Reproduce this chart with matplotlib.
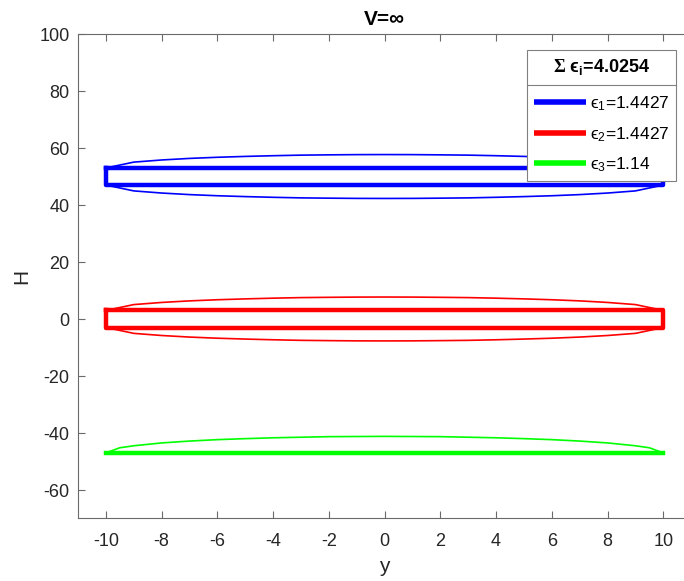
import matplotlib
matplotlib.use("Agg")
import matplotlib.pyplot as plt
from matplotlib.lines import Line2D

plt.rcParams['font.family'] = ['Liberation Sans', 'DejaVu Sans']
plt.rcParams['mathtext.fontset'] = 'custom'
plt.rcParams['mathtext.rm'] = 'Liberation Sans'
plt.rcParams['mathtext.it'] = 'Liberation Sans'
plt.rcParams['mathtext.bf'] = 'Liberation Sans:bold'
plt.rcParams['mathtext.sf'] = 'Liberation Serif:bold'
plt.rcParams['axes.unicode_minus'] = False

# ---- data ----
y_env = [-10, -9, -8, -7, -6, -5, -4, -3, -2, -1, 0, 1, 2, 3, 4, 5, 6, 7, 8, 9, 10]
blue_outer_top = [53.0, 55.05, 55.8, 56.35, 56.75, 57.05, 57.3, 57.5, 57.6, 57.68, 57.7,
                  57.68, 57.6, 57.5, 57.3, 57.05, 56.75, 56.35, 55.8, 55.05, 53.0]
blue_outer_bot = [47.0, 44.95, 44.2, 43.65, 43.25, 42.95, 42.7, 42.5, 42.4, 42.32, 42.3,
                  42.32, 42.4, 42.5, 42.7, 42.95, 43.25, 43.65, 44.2, 44.95, 47.0]
red_outer_top = [3.0, 5.05, 5.8, 6.35, 6.75, 7.05, 7.3, 7.5, 7.6, 7.68, 7.7,
                 7.68, 7.6, 7.5, 7.3, 7.05, 6.75, 6.35, 5.8, 5.05, 3.0]
red_outer_bot = [-3.0, -5.05, -5.8, -6.35, -6.75, -7.05, -7.3, -7.5, -7.6, -7.68, -7.7,
                 -7.68, -7.6, -7.5, -7.3, -7.05, -6.75, -6.35, -5.8, -5.05, -3.0]
y_green = [-10, -9.5, -9, -8, -7, -6, -5, -4, -3, -2, -1, 0,
           1, 2, 3, 4, 5, 6, 7, 8, 9, 9.5, 10]
green_outer_top = [-47.0, -45.2, -44.5, -43.5, -42.85, -42.35, -42.0, -41.7, -41.5, -41.3, -41.25, -41.2,
                   -41.25, -41.3, -41.5, -41.7, -42.0, -42.35, -42.85, -43.5, -44.5, -45.2, -47.0]

rect_y = [-10, 10, 10, -10, -10]
blue_rect_H = [53, 53, 47, 47, 53]
red_rect_H = [3, 3, -3, -3, 3]
green_line_y = [-10, 10]
green_line_H = [-47, -47]

labels = [r"ϵ$_1$=1.4427", r"ϵ$_2$=1.4427", r"ϵ$_3$=1.14"]
legend_title = r"$\mathsf{Σ}$ ϵ$_\mathbf{i}$=4.0254"
colors = ['#0000ff', '#ff0000', '#00ff00']

# ---- figure ----
fig = plt.figure(figsize=(6.845, 5.815), dpi=100)
# axes run to the right edge of the picture (the right part is cut off as in the reference)
ax = fig.add_axes([0.1140, 0.1076, 0.8860, 0.8330])

thin = 1.2
thick = 3.2

# blue
ax.plot(y_env + y_env[::-1], blue_outer_top + blue_outer_bot[::-1], color=colors[0], lw=thin)
h1, = ax.plot(rect_y, blue_rect_H, color=colors[0], lw=thick, solid_joinstyle='round')
# red
ax.plot(y_env + y_env[::-1], red_outer_top + red_outer_bot[::-1], color=colors[1], lw=thin)
h2, = ax.plot(rect_y, red_rect_H, color=colors[1], lw=thick, solid_joinstyle='round')
# green
ax.plot(y_green, green_outer_top, color=colors[2], lw=thin)
h3, = ax.plot(green_line_y, green_line_H, color=colors[2], lw=thick)

ax.set_xlim(-11, 10.76)
ax.set_ylim(-70, 100)
ax.set_xticks(range(-10, 11, 2))
ax.set_yticks(range(-60, 101, 20))

axcol = '#6a6a6a'
for s in ax.spines.values():
    s.set_color(axcol)
    s.set_linewidth(0.8)
ax.spines['right'].set_visible(False)
ax.tick_params(direction='in', length=5, width=0.8, color=axcol, labelcolor='#262626',
               labelsize=13, top=True, right=False)
ax.tick_params(axis='x', pad=10)
ax.tick_params(axis='y', pad=6)

xc = 11 / 21.76  # axes fraction of y = 0 (centre of the full plot box)
ax.set_xlabel('y', fontsize=15, color='#262626')
ax.xaxis.set_label_coords(xc, -0.079)
ax.set_ylabel('H', fontsize=15, color='#262626', labelpad=6)
ax.set_title('V=∞', fontsize=15, fontweight='bold', color='black', pad=7, x=xc)

leg = ax.legend([h1, h2, h3], labels, title=legend_title, loc='upper right',
                bbox_to_anchor=(598 / 606, 0.968), borderaxespad=0, fontsize=12.5,
                title_fontproperties={'weight': 'bold', 'size': 13},
                fancybox=False, framealpha=1, edgecolor='#808080',
                handlelength=3.0, handletextpad=0.22, labelspacing=0.68,
                borderpad=0.42)
leg.get_frame().set_linewidth(0.8)
for ln in leg.get_lines():
    ln.set_linewidth(4)
    ln.set_solid_capstyle('butt')
leg._legend_box.sep = 12.5

fig.canvas.draw()
rend = fig.canvas.get_renderer()
fb = leg.get_frame().get_window_extent(rend)
ysep = fb.y1 - 35
sep = Line2D([fb.x0, fb.x1], [ysep, ysep], transform=None, color='#808080', lw=0.8)
fig.add_artist(sep)

fig.savefig('out.png', dpi=100)
